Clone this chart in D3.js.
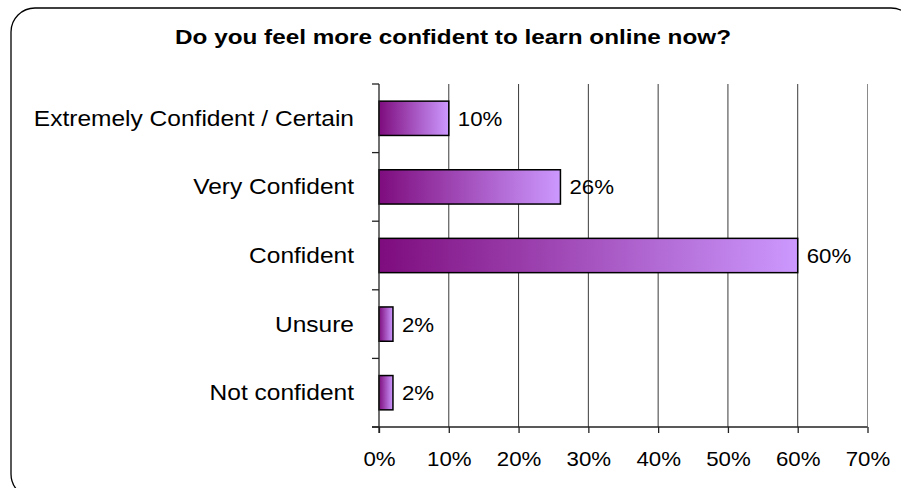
<!DOCTYPE html>
<html>
<head>
<meta charset="utf-8">
<script src="https://cdn.jsdelivr.net/npm/d3@7"></script>
<style>
  html, body { margin: 0; padding: 0; background: #fff; }
  svg { display: block; }
  text { font-family: "Liberation Sans", Arial, sans-serif; fill: #000; }
</style>
</head>
<body>
<svg id="chart" width="901" height="488"></svg>
<script>
// Survey answers, top to bottom
const categories = [
  "Extremely Confident / Certain",
  "Very Confident",
  "Confident",
  "Unsure",
  "Not confident"
];
const shares = [10, 26, 60, 2, 2];          // percent of respondents
const xTicks = [0, 10, 20, 30, 40, 50, 60, 70];
const title = "Do you feel more confident to learn online now?";

const svg = d3.select("#chart");

// Widen glyphs slightly, the way the chart's text is set
function widen(sel, factor) {
  sel.each(function () {
    const w = this.getComputedTextLength();
    d3.select(this)
      .attr("textLength", w * factor)
      .attr("lengthAdjust", "spacingAndGlyphs");
  });
}

// Rounded frame around the whole chart
svg.append("rect")
  .attr("x", 11).attr("y", 8)
  .attr("width", 904).attr("height", 490)
  .attr("rx", 24).attr("ry", 24)
  .attr("fill", "#fff")
  .attr("stroke", "#000")
  .attr("stroke-width", 1.3);

// Title
svg.append("text")
  .attr("x", 453).attr("y", 44)
  .attr("text-anchor", "middle")
  .attr("font-size", 20.5)
  .attr("font-weight", "bold")
  .attr("textLength", 556)
  .attr("lengthAdjust", "spacingAndGlyphs")
  .text(title);

const plot = { left: 379, right: 867.5, top: 84, bottom: 427 };

const x = d3.scaleLinear()
  .domain([0, 70])
  .range([plot.left, plot.right]);

const y = d3.scaleBand()
  .domain(categories)
  .range([plot.top, plot.bottom])
  .paddingInner(0.5)
  .paddingOuter(0.25);

// Horizontal gradient used by every bar
const defs = svg.append("defs");
const grad = defs.append("linearGradient")
  .attr("id", "barFill")
  .attr("x1", "0%").attr("y1", "0%")
  .attr("x2", "100%").attr("y2", "0%");
grad.append("stop").attr("offset", "0%").attr("stop-color", "#7e0c7e");
grad.append("stop").attr("offset", "100%").attr("stop-color", "#cc99ff");

// Vertical gridlines
svg.append("g")
  .selectAll("line")
  .data(xTicks.slice(1))
  .join("line")
  .attr("x1", d => x(d)).attr("x2", d => x(d))
  .attr("y1", plot.top).attr("y2", plot.bottom)
  .attr("stroke", d => d === 70 ? "#8a8a8a" : "#3a3a3a")
  .attr("stroke-width", 1);

// Bars
svg.append("g")
  .selectAll("rect")
  .data(categories)
  .join("rect")
  .attr("x", x(0))
  .attr("y", d => y(d))
  .attr("width", (d, i) => x(shares[i]) - x(0))
  .attr("height", y.bandwidth())
  .attr("fill", "url(#barFill)")
  .attr("stroke", "#000")
  .attr("stroke-width", 1.5);

// Value labels
const valueLabels = svg.append("g")
  .selectAll("text")
  .data(categories)
  .join("text")
  .attr("x", (d, i) => x(shares[i]) + 9)
  .attr("y", d => y(d) + y.bandwidth() / 2 + 7.5)
  .attr("font-size", 21)
  .text((d, i) => shares[i] + "%");
widen(valueLabels, 1.06);

// X axis
const xAxis = svg.append("g")
  .attr("transform", `translate(0,${plot.bottom})`)
  .call(d3.axisBottom(x).tickValues(xTicks).tickFormat(d => d + "%").tickSize(6).tickSizeOuter(0));
xAxis.select(".domain").remove();
xAxis.append("line")
  .attr("x1", plot.left - 7).attr("x2", plot.right)
  .attr("stroke", "#222").attr("stroke-width", 1.3);
xAxis.selectAll(".tick line").attr("stroke", "#222").attr("stroke-width", 1.3);
const tickText = xAxis.selectAll(".tick text")
  .attr("font-family", "'Liberation Sans', Arial, sans-serif")
  .attr("font-size", 21)
  .attr("fill", "#000")
  .attr("dy", 0)
  .attr("y", 39);
widen(tickText, 1.06);

// Y axis: line plus ticks on category boundaries
const bounds = d3.range(categories.length + 1).map(i => plot.top + i * (plot.bottom - plot.top) / categories.length);
const yAxis = svg.append("g");
yAxis.append("line")
  .attr("x1", plot.left).attr("x2", plot.left)
  .attr("y1", plot.top).attr("y2", plot.bottom + 6)
  .attr("stroke", "#222").attr("stroke-width", 1.3);
yAxis.selectAll("line.tk")
  .data(bounds)
  .join("line")
  .attr("class", "tk")
  .attr("x1", plot.left - 7).attr("x2", plot.left)
  .attr("y1", d => d).attr("y2", d => d)
  .attr("stroke", "#222").attr("stroke-width", 1.3);

// Category labels
const catLabels = yAxis.selectAll("text")
  .data(categories)
  .join("text")
  .attr("x", 354)
  .attr("y", d => y(d) + y.bandwidth() / 2 + 7.5)
  .attr("text-anchor", "end")
  .attr("font-size", 21.5)
  .text(d => d);
widen(catLabels, 1.14);
</script>
</body>
</html>
